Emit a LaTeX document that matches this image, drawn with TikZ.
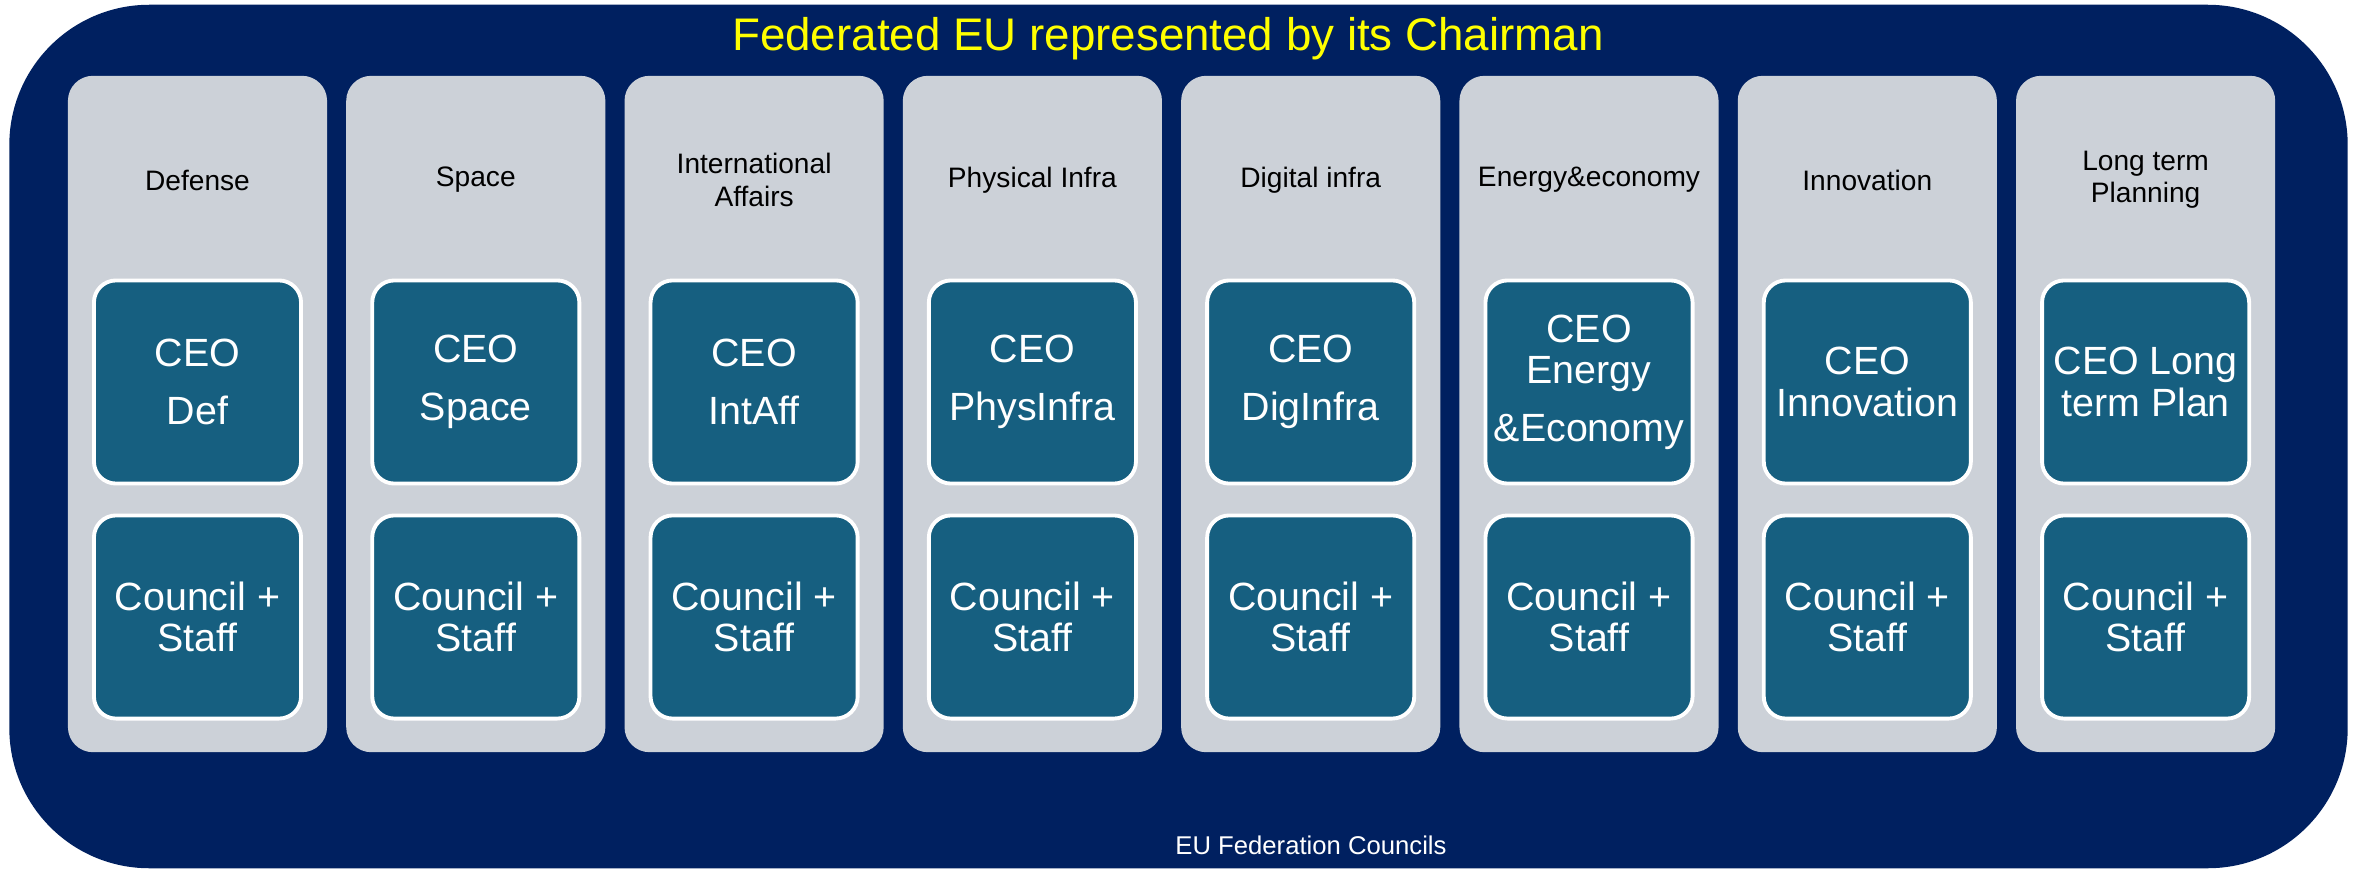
\documentclass[tikz,border=0pt]{standalone}
\usepackage{fontspec}
\setmainfont{Liberation Sans}
\definecolor{navy}{HTML}{002060}
\definecolor{colgray}{HTML}{CCD1D8}
\definecolor{ceoteal}{HTML}{165F80}
\definecolor{titleyellow}{HTML}{FFFF00}
\begin{document}
\begin{tikzpicture}[x=0.01cm,y=-0.01cm,
 outerbox/.style={fill=navy, rounded corners=1.4cm, minimum width=23.37cm, minimum height=8.63cm, inner sep=0},
 colbox/.style={fill=colgray, rounded corners=0.25cm, minimum width=2.59cm, minimum height=6.76cm, inner sep=0},
 unitbox/.style={fill=ceoteal, draw=white, line width=1.1pt, rounded corners=0.22cm, minimum width=2.07cm, minimum height=2.03cm, inner sep=0, text=white, align=center, font=\fontsize{11.2}{11.8}\selectfont},
 header/.style={align=center, font=\fontsize{8}{9.2}\selectfont, text=black},
]
\useasboundingbox (0,0) rectangle (2361,870);
\node[outerbox] (outer) at (1178.5,436.5) {};
\node[font=\fontsize{13}{15}\selectfont, text=titleyellow] (title) at (1168,39) {Federated EU represented by its Chairman};
\node[text=white, font=\fontsize{7.3}{9}\selectfont] (bottom) at (1311,845) {EU Federation Councils};
\foreach \i/\head/\ceo in {
 0/{Defense}/{CEO\\[4.6pt]Def},
 1/{Space}/{CEO\\[4.6pt]Space},
 2/{International\\Affairs}/{CEO\\[4.6pt]IntAff},
 3/{Physical Infra}/{CEO\\[4.6pt]PhysInfra},
 4/{Digital infra}/{CEO\\[4.6pt]DigInfra},
 5/{Energy\&economy}/{CEO\\Energy\\[4.6pt]\&Economy},
 6/{Innovation}/{CEO\\Innovation},
 7/{Long term\\Planning}/{CEO Long\\term Plan}}{
  \pgfmathsetmacro{\cx}{197.5+\i*278.3}
  \node[colbox] (col\i) at (\cx,414) {};
  \node[header] (head\i) at (\cx,180) {\head};
  \node[unitbox] (ceo\i) at (\cx,382) {\ceo};
  \node[unitbox] (cou\i) at (\cx,617) {Council +\\Staff};
}
\end{tikzpicture}
\end{document}
